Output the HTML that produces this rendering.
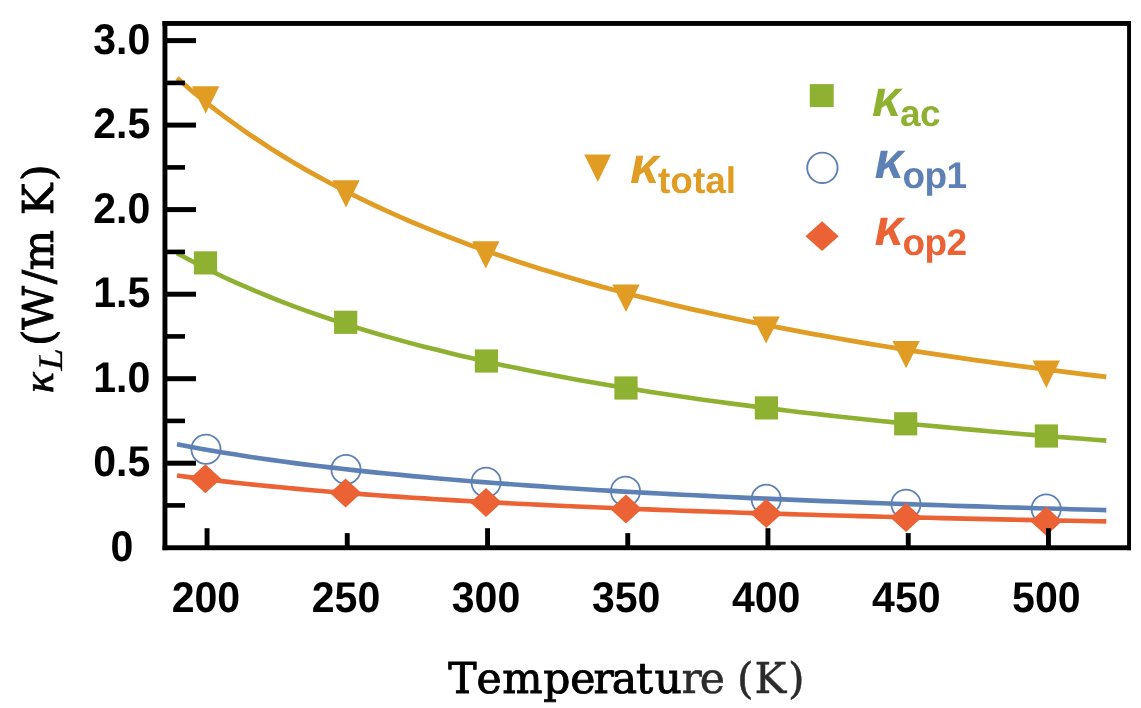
<!DOCTYPE html>
<html lang="en"><head><meta charset="utf-8"><title>Lattice thermal conductivity</title>
<style>
html,body{margin:0;padding:0;background:#fff;}
body{width:1141px;height:708px;overflow:hidden;}
svg{display:block;}
text{text-rendering:geometricPrecision;}
.tk{font-family:"Liberation Sans",Arial,Helvetica,sans-serif;font-weight:bold;font-size:43px;fill:#000;}
.ax{font-family:"DejaVu Serif","Liberation Serif",serif;fill:#000;stroke:#000;stroke-width:0.9px;}
.lg{font-family:"Liberation Sans",Arial,Helvetica,sans-serif;font-weight:bold;}
.k{font-style:italic;font-size:51.5px;}
.sb{font-size:37px;letter-spacing:-0.6px;}
</style></head><body>
<svg width="1141" height="708" viewBox="0 0 1141 708">
<rect x="0" y="0" width="1141" height="708" fill="#ffffff"/>

<g id="curves">
<polyline points="177.0,78.1 188.8,88.3 200.6,98.0 212.3,107.4 224.1,116.3 235.9,124.9 247.6,133.2 259.4,141.1 271.1,148.8 282.9,156.1 294.7,163.2 306.4,170.1 318.2,176.7 330.0,183.0 341.7,189.2 353.5,195.2 365.2,200.9 377.0,206.5 388.8,211.9 400.5,217.1 412.3,222.2 424.1,227.1 435.8,231.9 447.6,236.5 459.4,241.0 471.1,245.4 482.9,249.6 494.6,253.8 506.4,257.8 518.2,261.7 529.9,265.5 541.7,269.2 553.5,272.8 565.2,276.3 577.0,279.8 588.7,283.1 600.5,286.4 612.3,289.5 624.0,292.6 635.8,295.7 647.6,298.6 659.3,301.5 671.1,304.3 682.8,307.1 694.6,309.8 706.4,312.4 718.1,315.0 729.9,317.5 741.7,320.0 753.4,322.4 765.2,324.8 776.9,327.1 788.7,329.4 800.5,331.6 812.2,333.8 824.0,335.9 835.8,338.0 847.5,340.1 859.3,342.1 871.0,344.1 882.8,346.0 894.6,347.9 906.3,349.8 918.1,351.6 929.9,353.4 941.6,355.1 953.4,356.9 965.1,358.6 976.9,360.3 988.7,361.9 1000.4,363.5 1012.2,365.1 1024.0,366.6 1035.7,368.2 1047.5,369.7 1059.3,371.2 1071.0,372.6 1082.8,374.1 1094.5,375.5 1106.3,376.9" fill="none" stroke="#E19C24" stroke-width="4.8" stroke-linecap="butt" stroke-linejoin="round"/>
<polyline points="177.0,253.2 188.8,259.6 200.6,265.7 212.3,271.5 224.1,277.2 235.9,282.6 247.6,287.7 259.4,292.7 271.1,297.5 282.9,302.1 294.7,306.6 306.4,310.9 318.2,315.0 330.0,319.0 341.7,322.9 353.5,326.6 365.2,330.2 377.0,333.7 388.8,337.1 400.5,340.4 412.3,343.6 424.1,346.7 435.8,349.6 447.6,352.6 459.4,355.4 471.1,358.1 482.9,360.8 494.6,363.4 506.4,365.9 518.2,368.3 529.9,370.7 541.7,373.0 553.5,375.3 565.2,377.5 577.0,379.7 588.7,381.8 600.5,383.8 612.3,385.8 624.0,387.7 635.8,389.6 647.6,391.5 659.3,393.3 671.1,395.1 682.8,396.8 694.6,398.5 706.4,400.2 718.1,401.8 729.9,403.4 741.7,404.9 753.4,406.4 765.2,407.9 776.9,409.4 788.7,410.8 800.5,412.2 812.2,413.5 824.0,414.9 835.8,416.2 847.5,417.5 859.3,418.8 871.0,420.0 882.8,421.2 894.6,422.4 906.3,423.6 918.1,424.7 929.9,425.8 941.6,426.9 953.4,428.0 965.1,429.1 976.9,430.1 988.7,431.2 1000.4,432.2 1012.2,433.2 1024.0,434.2 1035.7,435.1 1047.5,436.1 1059.3,437.0 1071.0,437.9 1082.8,438.8 1094.5,439.7 1106.3,440.6" fill="none" stroke="#8FB131" stroke-width="4.6" stroke-linecap="butt" stroke-linejoin="round"/>
<polyline points="177.0,444.3 188.8,446.6 200.6,448.7 212.3,450.8 224.1,452.7 235.9,454.6 247.6,456.5 259.4,458.2 271.1,459.9 282.9,461.5 294.7,463.1 306.4,464.6 318.2,466.0 330.0,467.4 341.7,468.8 353.5,470.1 365.2,471.4 377.0,472.6 388.8,473.8 400.5,474.9 412.3,476.1 424.1,477.1 435.8,478.2 447.6,479.2 459.4,480.2 471.1,481.2 482.9,482.1 494.6,483.0 506.4,483.9 518.2,484.7 529.9,485.6 541.7,486.4 553.5,487.2 565.2,488.0 577.0,488.7 588.7,489.5 600.5,490.2 612.3,490.9 624.0,491.6 635.8,492.2 647.6,492.9 659.3,493.5 671.1,494.1 682.8,494.7 694.6,495.3 706.4,495.9 718.1,496.5 729.9,497.0 741.7,497.6 753.4,498.1 765.2,498.6 776.9,499.1 788.7,499.6 800.5,500.1 812.2,500.6 824.0,501.1 835.8,501.5 847.5,502.0 859.3,502.4 871.0,502.9 882.8,503.3 894.6,503.7 906.3,504.1 918.1,504.5 929.9,504.9 941.6,505.3 953.4,505.7 965.1,506.1 976.9,506.4 988.7,506.8 1000.4,507.2 1012.2,507.5 1024.0,507.8 1035.7,508.2 1047.5,508.5 1059.3,508.8 1071.0,509.2 1082.8,509.5 1094.5,509.8 1106.3,510.1" fill="none" stroke="#5E81B5" stroke-width="4.6" stroke-linecap="butt" stroke-linejoin="round"/>
<polyline points="177.0,475.5 188.8,477.1 200.6,478.6 212.3,480.0 224.1,481.4 235.9,482.7 247.6,484.0 259.4,485.2 271.1,486.4 282.9,487.5 294.7,488.6 306.4,489.7 318.2,490.7 330.0,491.7 341.7,492.6 353.5,493.5 365.2,494.4 377.0,495.3 388.8,496.1 400.5,496.9 412.3,497.7 424.1,498.4 435.8,499.2 447.6,499.9 459.4,500.6 471.1,501.2 482.9,501.9 494.6,502.5 506.4,503.1 518.2,503.7 529.9,504.3 541.7,504.9 553.5,505.5 565.2,506.0 577.0,506.5 588.7,507.0 600.5,507.5 612.3,508.0 624.0,508.5 635.8,509.0 647.6,509.4 659.3,509.9 671.1,510.3 682.8,510.7 694.6,511.1 706.4,511.5 718.1,511.9 729.9,512.3 741.7,512.7 753.4,513.1 765.2,513.4 776.9,513.8 788.7,514.1 800.5,514.5 812.2,514.8 824.0,515.2 835.8,515.5 847.5,515.8 859.3,516.1 871.0,516.4 882.8,516.7 894.6,517.0 906.3,517.3 918.1,517.6 929.9,517.8 941.6,518.1 953.4,518.4 965.1,518.6 976.9,518.9 988.7,519.1 1000.4,519.4 1012.2,519.6 1024.0,519.9 1035.7,520.1 1047.5,520.3 1059.3,520.6 1071.0,520.8 1082.8,521.0 1094.5,521.2 1106.3,521.4" fill="none" stroke="#EB6235" stroke-width="4.6" stroke-linecap="butt" stroke-linejoin="round"/>
</g>
<g id="markers">
<polygon points="192.0,86.2 219.4,86.2 205.7,113.4" fill="#E19C24"/>
<polygon points="332.3,180.3 359.7,180.3 346.0,207.5" fill="#E19C24"/>
<polygon points="472.1,241.2 499.5,241.2 485.8,268.6" fill="#E19C24"/>
<polygon points="612.3,284.4 639.7,284.4 626.0,311.9" fill="#E19C24"/>
<polygon points="752.4,316.4 779.8,316.4 766.1,343.6" fill="#E19C24"/>
<polygon points="892.4,341.0 919.8,341.0 906.1,368.2" fill="#E19C24"/>
<polygon points="1032.6,360.5 1060.0,360.5 1046.3,388.0" fill="#E19C24"/>
<rect x="193.9" y="251.3" width="23.2" height="23.2" fill="#8FB131"/>
<rect x="334.1" y="310.7" width="23.2" height="23.2" fill="#8FB131"/>
<rect x="474.8" y="349.4" width="23.2" height="23.2" fill="#8FB131"/>
<rect x="614.4" y="376.4" width="23.2" height="23.2" fill="#8FB131"/>
<rect x="754.8" y="396.3" width="23.2" height="23.2" fill="#8FB131"/>
<rect x="894.1" y="412.2" width="23.2" height="23.2" fill="#8FB131"/>
<rect x="1034.8" y="424.4" width="23.2" height="23.2" fill="#8FB131"/>
<circle cx="206.0" cy="449.2" r="14.6" fill="none" stroke="#5E81B5" stroke-width="1.8"/>
<circle cx="346.0" cy="469.4" r="14.6" fill="none" stroke="#5E81B5" stroke-width="1.8"/>
<circle cx="486.1" cy="482.3" r="14.6" fill="none" stroke="#5E81B5" stroke-width="1.8"/>
<circle cx="625.5" cy="491.3" r="14.6" fill="none" stroke="#5E81B5" stroke-width="1.8"/>
<circle cx="766.2" cy="499.2" r="14.6" fill="none" stroke="#5E81B5" stroke-width="1.8"/>
<circle cx="906.0" cy="504.2" r="14.6" fill="none" stroke="#5E81B5" stroke-width="1.8"/>
<circle cx="1046.2" cy="509.0" r="14.6" fill="none" stroke="#5E81B5" stroke-width="1.8"/>
<polygon points="189.6,478.7 205.4,464.2 221.2,478.7 205.4,493.2" fill="#EB6235"/>
<polygon points="329.8,492.9 345.6,478.4 361.4,492.9 345.6,507.4" fill="#EB6235"/>
<polygon points="470.2,502.5 486.0,488.0 501.8,502.5 486.0,517.0" fill="#EB6235"/>
<polygon points="610.2,509.0 626.0,494.5 641.8,509.0 626.0,523.5" fill="#EB6235"/>
<polygon points="750.4,513.4 766.2,498.9 782.0,513.4 766.2,527.9" fill="#EB6235"/>
<polygon points="890.2,517.6 906.0,503.1 921.8,517.6 906.0,532.1" fill="#EB6235"/>
<polygon points="1030.4,521.3 1046.2,506.8 1062.0,521.3 1046.2,535.8" fill="#EB6235"/>
</g>
<g id="frame" fill="#000">
<rect x="162.5" y="21" width="968.5" height="4.9"/>
<rect x="162.5" y="545.3" width="968.5" height="4.9"/>
<rect x="162.5" y="21" width="4.9" height="529.2"/>
<rect x="1127.1" y="21" width="3.9" height="529.2"/>
<rect x="165" y="503.1" width="20" height="4.6"/>
<rect x="165" y="460.7" width="31" height="5"/>
<rect x="165" y="418.6" width="20" height="4.6"/>
<rect x="165" y="376.2" width="31" height="5"/>
<rect x="165" y="334.1" width="20" height="4.6"/>
<rect x="165" y="291.7" width="31" height="5"/>
<rect x="165" y="249.6" width="20" height="4.6"/>
<rect x="165" y="207.1" width="31" height="5"/>
<rect x="165" y="165.1" width="20" height="4.6"/>
<rect x="165" y="122.6" width="31" height="5"/>
<rect x="165" y="80.6" width="20" height="4.6"/>
<rect x="165" y="38.1" width="31" height="5"/>
<rect x="204.6" y="528.2" width="4.9" height="18.8"/>
<rect x="344.8" y="533.1" width="4.9" height="13.9"/>
<rect x="485.1" y="528.2" width="4.9" height="18.8"/>
<rect x="625.3" y="533.1" width="4.9" height="13.9"/>
<rect x="765.5" y="528.2" width="4.9" height="18.8"/>
<rect x="905.8" y="533.1" width="4.9" height="13.9"/>
<rect x="1046.0" y="528.2" width="4.9" height="18.8"/>
</g>
<g id="ticklabels" class="tk">
<text transform="translate(133.3,560.8) scale(0.954,1)" text-anchor="end">0</text>
<text transform="translate(150.2,476.3) scale(0.954,1)" text-anchor="end">0.5</text>
<text transform="translate(150.2,391.8) scale(0.954,1)" text-anchor="end">1.0</text>
<text transform="translate(150.2,307.3) scale(0.954,1)" text-anchor="end">1.5</text>
<text transform="translate(150.2,222.7) scale(0.954,1)" text-anchor="end">2.0</text>
<text transform="translate(150.2,138.2) scale(0.954,1)" text-anchor="end">2.5</text>
<text transform="translate(150.2,53.7) scale(0.954,1)" text-anchor="end">3.0</text>
<text transform="translate(205.9,611.7) scale(0.954,1)" text-anchor="middle">200</text>
<text transform="translate(346.0,611.7) scale(0.954,1)" text-anchor="middle">250</text>
<text transform="translate(486.0,611.7) scale(0.954,1)" text-anchor="middle">300</text>
<text transform="translate(626.1,611.7) scale(0.954,1)" text-anchor="middle">350</text>
<text transform="translate(766.2,611.7) scale(0.954,1)" text-anchor="middle">400</text>
<text transform="translate(906.3,611.7) scale(0.954,1)" text-anchor="middle">450</text>
<text transform="translate(1046.3,611.7) scale(0.954,1)" text-anchor="middle">500</text>
</g>
<g id="axislabels" class="ax">
<text y="693.3" font-size="42.5" x="448.3 476.4 502.3 543.3 570.2 593.5 611.8 636.0 654.4 681.4 699.8 724 736.9 754.4 788.0">Temperatu<tspan fill="#2b2b2b" stroke="#2b2b2b" stroke-width="0.5">re (K)</tspan></text>
<g transform="translate(52.5,392) rotate(-90)">
<text x="-1" y="0" font-family="Liberation Serif, serif" font-style="italic" font-size="43" stroke-width="0.8">κ</text>
<text transform="translate(21.5,9.5) scale(1.15,1)" font-family="Liberation Serif, serif" font-style="italic" font-size="34.5" stroke-width="0.3">L</text>
<text x="0" y="0" font-size="42.5"><tspan x="45.9">(</tspan><tspan x="62.3">W</tspan><tspan x="107.8">/</tspan><tspan x="121.8">m</tspan><tspan x="176.8">K</tspan><tspan x="211.1">)</tspan></text>
</g></g>
<g id="legend" class="lg">
<rect x="809.8" y="84.1" width="23.9" height="23" fill="#8FB131"/>
<circle cx="822.4" cy="167.8" r="15.2" fill="none" stroke="#5E81B5" stroke-width="1.9"/>
<polygon points="805.5,236.2 822.1,221.3 838.7,236.2 822.1,251.1" fill="#EB6235"/>
<polygon points="584.2,154.6 611.1,154.6 597.8,182" fill="#E19C24"/>
<text x="872" y="115.9" fill="#8FB131"><tspan class="k">κ</tspan><tspan class="sb" dx="-1.2" dy="9.8" style="letter-spacing:-0.6px">ac</tspan></text>
<text x="874.5" y="177.8" fill="#5E81B5"><tspan class="k">κ</tspan><tspan class="sb" dx="-1.2" dy="9.8" style="letter-spacing:-0.6px">op1</tspan></text>
<text x="874.5" y="245.1" fill="#EB6235"><tspan class="k">κ</tspan><tspan class="sb" dx="-1.2" dy="9.8" style="letter-spacing:-0.6px">op2</tspan></text>
<text x="630" y="183.3" fill="#E19C24"><tspan class="k">κ</tspan><tspan class="sb" dx="-1.2" dy="9.8" style="letter-spacing:0px">total</tspan></text>
</g>
</svg>
</body></html>
